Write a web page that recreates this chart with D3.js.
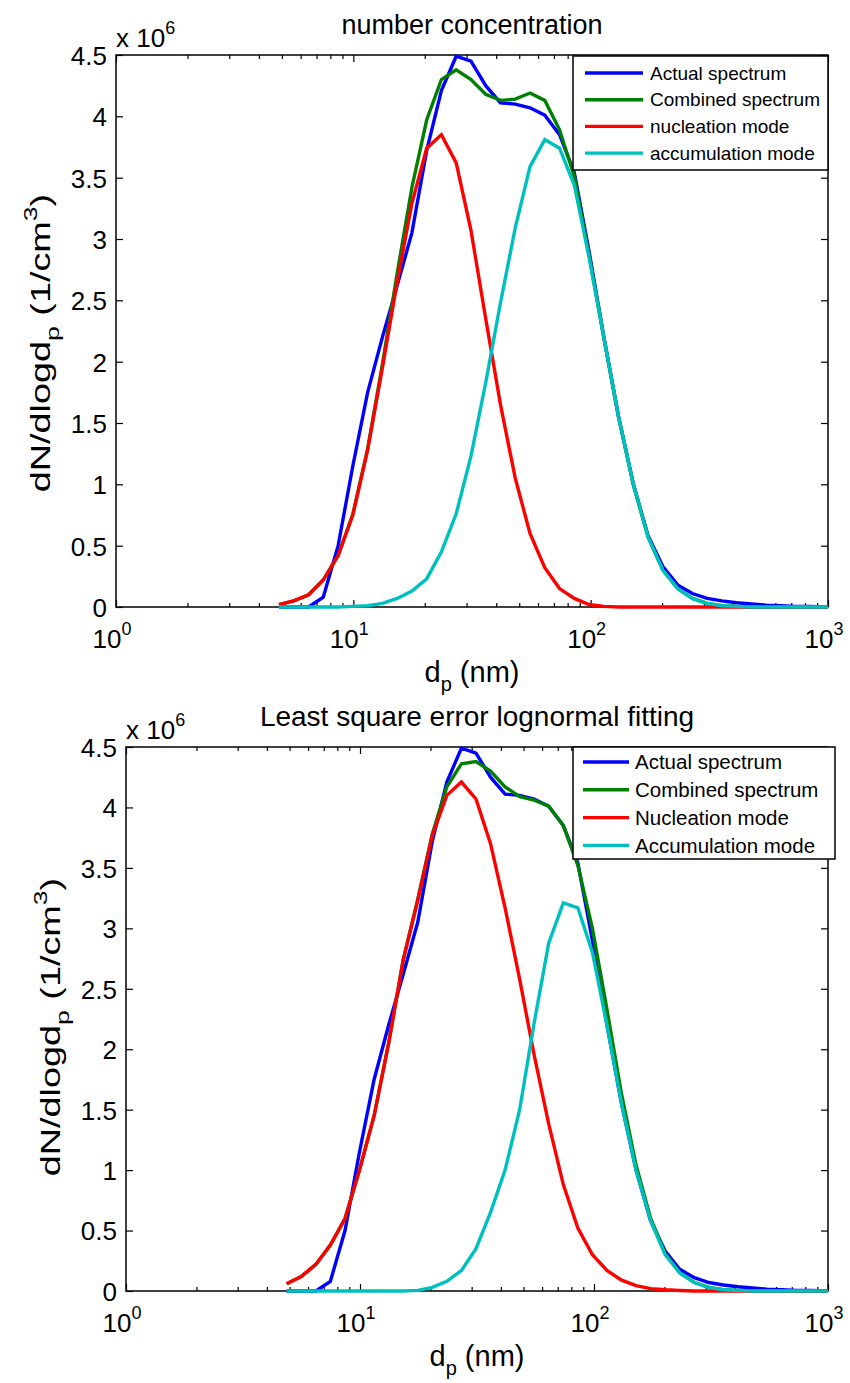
<!DOCTYPE html>
<html>
<head>
<meta charset="utf-8">
<script src="https://cdn.jsdelivr.net/npm/d3@7"></script>
<style>
  body { margin: 0; background: #fff; }
  svg text { font-family: "Liberation Sans", Arial, sans-serif; fill: #000; }
</style>
</head>
<body>
<svg id="chart" width="850" height="1383"></svg>
<script>
// particle diameter grid (nm)
const dp = [4.86, 5.61, 6.48, 7.47, 8.63, 9.95, 11.49, 13.26, 15.30, 17.65, 20.37, 23.50, 27.13, 31.31,
  36.13, 41.69, 48.11, 55.52, 64.07, 73.94, 85.31, 98.45, 113.6, 131.1, 151.3, 174.6, 201.5, 232.5,
  268.3, 309.6, 357.3, 412.3, 475.8, 549.0, 633.5, 731.1, 843.6, 1000];

// values in units of 1e6 1/cm3
const actual = [0, 0, 0, 0.08, 0.5, 1.15, 1.75, 2.2, 2.62, 3.05, 3.72, 4.21, 4.49, 4.45, 4.25, 4.11, 4.10,
  4.07, 4.01, 3.85, 3.54, 2.9, 2.2, 1.55, 1.0, 0.58, 0.33, 0.18, 0.11, 0.07, 0.05, 0.035, 0.025, 0.015,
  0.01, 0.005, 0.005, 0];

// top panel
const combinedTop = [0.02, 0.05, 0.1, 0.22, 0.42, 0.755, 1.29, 1.98, 2.72, 3.42, 3.97, 4.30, 4.38, 4.30,
  4.18, 4.13, 4.14, 4.19, 4.13, 3.89, 3.51, 2.87, 2.2, 1.55, 1.0, 0.57, 0.3, 0.15, 0.07, 0.03, 0.01,
  0.005, 0, 0, 0, 0, 0, 0];
const nucleationTop = [0.02, 0.05, 0.1, 0.22, 0.42, 0.75, 1.28, 1.95, 2.65, 3.29, 3.74, 3.85, 3.62, 3.07,
  2.35, 1.65, 1.05, 0.6, 0.32, 0.15, 0.07, 0.02, 0.005, 0, 0, 0, 0, 0, 0, 0, 0, 0, 0, 0, 0, 0, 0, 0];
const accumulationTop = [0, 0, 0, 0, 0, 0.005, 0.01, 0.03, 0.07, 0.13, 0.23, 0.45, 0.76, 1.23, 1.83, 2.48,
  3.09, 3.59, 3.81, 3.74, 3.44, 2.85, 2.2, 1.55, 1.0, 0.57, 0.3, 0.15, 0.07, 0.03, 0.01, 0.005, 0, 0, 0,
  0, 0, 0];

// bottom panel
const combinedBottom = [0.06, 0.12, 0.22, 0.38, 0.6, 1.0, 1.45, 2.05, 2.74, 3.24, 3.78, 4.17, 4.36, 4.38,
  4.30, 4.17, 4.09, 4.06, 4.01, 3.85, 3.52, 3.0, 2.33, 1.63, 1.04, 0.6, 0.31, 0.15, 0.07, 0.03, 0.01,
  0.005, 0, 0, 0, 0, 0, 0];
const nucleationBottom = [0.06, 0.12, 0.22, 0.38, 0.6, 1.0, 1.45, 2.05, 2.74, 3.23, 3.77, 4.10, 4.21,
  4.07, 3.70, 3.17, 2.58, 1.95, 1.38, 0.88, 0.52, 0.3, 0.17, 0.09, 0.045, 0.02, 0.01, 0.004, 0, 0, 0,
  0, 0, 0, 0, 0, 0, 0];
const accumulationBottom = [0, 0, 0, 0, 0, 0, 0, 0, 0, 0.005, 0.03, 0.08, 0.17, 0.35, 0.65, 1.0, 1.5, 2.22,
  2.88, 3.21, 3.17, 2.8, 2.2, 1.55, 1.0, 0.58, 0.3, 0.15, 0.07, 0.03, 0.01, 0.005, 0, 0, 0, 0, 0, 0];

const yTicks = [0, 0.5, 1, 1.5, 2, 2.5, 3, 3.5, 4, 4.5];
const xMajor = [1, 10, 100, 1000];
const xLabelExp = ["0", "1", "2", "3"];
const colors = ["#0000ff", "#008000", "#ff0000", "#00bfbf"];

const svg = d3.select("#chart");

function drawPanel(p) {
  const w = p.right - p.left, h = p.bottom - p.top;
  const g = svg.append("g").attr("transform", `translate(${p.left},${p.top})`);

  const x = d3.scaleLog().domain([1, 1000]).range([0, w]);
  const y = d3.scaleLinear().domain([0, 4.5]).range([h, 0]);

  const xMinor = x.ticks().filter(v => !xMajor.includes(v));

  // ticks point inward, on all four sides
  const tickStyle = sel => {
    sel.select(".domain").remove();
    sel.selectAll("line").attr("stroke", "#000").attr("stroke-width", 1.2);
  };
  g.append("g").attr("transform", `translate(0,${h})`)
    .call(d3.axisBottom(x).tickValues(xMajor).tickSize(-7).tickFormat("")).call(tickStyle);
  g.append("g").attr("transform", `translate(0,${h})`)
    .call(d3.axisBottom(x).tickValues(xMinor).tickSize(-4).tickFormat("")).call(tickStyle);
  g.append("g")
    .call(d3.axisTop(x).tickValues(xMajor).tickSize(-7).tickFormat("")).call(tickStyle);
  g.append("g")
    .call(d3.axisTop(x).tickValues(xMinor).tickSize(-4).tickFormat("")).call(tickStyle);

  const yl = g.append("g")
    .call(d3.axisLeft(y).tickValues(yTicks).tickSize(-7).tickPadding(9).tickFormat(d3.format("")))
    .call(tickStyle);
  yl.selectAll("text").attr("font-size", 26).attr("font-family", null).attr("dy", "0.36em");
  g.append("g").attr("transform", `translate(${w},0)`)
    .call(d3.axisRight(y).tickValues(yTicks).tickSize(-7).tickFormat("")).call(tickStyle);

  // x tick labels 10^n
  xMajor.forEach((v, i) => {
    const t = g.append("text")
      .attr("x", x(v) - 4).attr("y", h + 41)
      .attr("text-anchor", "middle").attr("font-size", 26);
    t.append("tspan").text("10");
    t.append("tspan").attr("dy", -13).attr("font-size", 18).text(xLabelExp[i]);
  });

  // frame
  g.append("rect").attr("width", w).attr("height", h)
    .attr("fill", "none").attr("stroke", "#000").attr("stroke-width", 1.5);

  // curves
  const series = [actual, p.combined, p.nucleation, p.accumulation];
  series.forEach((vals, k) => {
    const line = d3.line().x((d, i) => x(dp[i])).y(d => y(d));
    g.append("path").datum(vals)
      .attr("d", line)
      .attr("fill", "none")
      .attr("stroke", colors[k])
      .attr("stroke-width", 3.4);
  });

  // exponent label
  const ex = g.append("text").attr("x", 0).attr("y", -8).attr("font-size", 26);
  ex.append("tspan").text("x 10");
  ex.append("tspan").attr("dy", -13).attr("font-size", 18).text("6");

  // title
  g.append("text").attr("x", w / 2).attr("y", -21)
    .attr("text-anchor", "middle").attr("font-size", p.titleSize).text(p.title);

  // x axis label
  const xl = g.append("text").attr("x", w / 2).attr("y", h + 75)
    .attr("text-anchor", "middle").attr("font-size", 29);
  xl.append("tspan").text("d");
  xl.append("tspan").attr("dy", 9).attr("font-size", 20).text("p");
  xl.append("tspan").attr("dy", -9).text(" (nm)");

  // y axis label (stretched along its length like the original)
  const ylab = g.append("text")
    .attr("transform", `translate(${p.ylabX},${h / 2 + p.ylabShift}) rotate(-90) scale(1.4,1)`)
    .attr("text-anchor", "middle").attr("font-size", 27);
  ylab.append("tspan").text("dN/dlogd");
  ylab.append("tspan").attr("dy", 9).attr("font-size", 19).text("p");
  ylab.append("tspan").attr("dy", -9).text(" (1/cm");
  ylab.append("tspan").attr("dy", -13).attr("font-size", 19).text("3");
  ylab.append("tspan").attr("dy", 13).text(")");

  // legend
  const L = p.legend;
  const lg = svg.append("g").attr("transform", `translate(${L.x},${L.y})`);
  lg.append("rect").attr("width", L.w).attr("height", L.h)
    .attr("fill", "#fff").attr("stroke", "#000").attr("stroke-width", 1.5);
  p.names.forEach((name, k) => {
    const cy = L.first + k * L.step;
    lg.append("line").attr("x1", L.lx1).attr("x2", L.lx2).attr("y1", cy).attr("y2", cy)
      .attr("stroke", colors[k]).attr("stroke-width", 3.4);
    lg.append("text").attr("x", L.tx).attr("y", cy).attr("dy", "0.35em")
      .attr("font-size", L.fs).text(name);
  });
}

drawPanel({
  left: 116, right: 828, top: 55, bottom: 607,
  title: "number concentration", titleSize: 27, ylabX: -66, ylabShift: 12,
  combined: combinedTop, nucleation: nucleationTop, accumulation: accumulationTop,
  names: ["Actual spectrum", "Combined spectrum", "nucleation mode", "accumulation mode"],
  legend: { x: 573, y: 56, w: 255, h: 114, first: 17, step: 26.7, lx1: 12, lx2: 70, tx: 77, fs: 19 }
});

drawPanel({
  left: 126, right: 828, top: 747, bottom: 1291,
  title: "Least square error lognormal fitting", titleSize: 28, ylabX: -66, ylabShift: 8,
  combined: combinedBottom, nucleation: nucleationBottom, accumulation: accumulationBottom,
  names: ["Actual spectrum", "Combined spectrum", "Nucleation mode", "Accumulation mode"],
  legend: { x: 573, y: 747, w: 262, h: 112, first: 15, step: 27.8, lx1: 10, lx2: 56, tx: 62, fs: 20.5 }
});
</script>
</body>
</html>
